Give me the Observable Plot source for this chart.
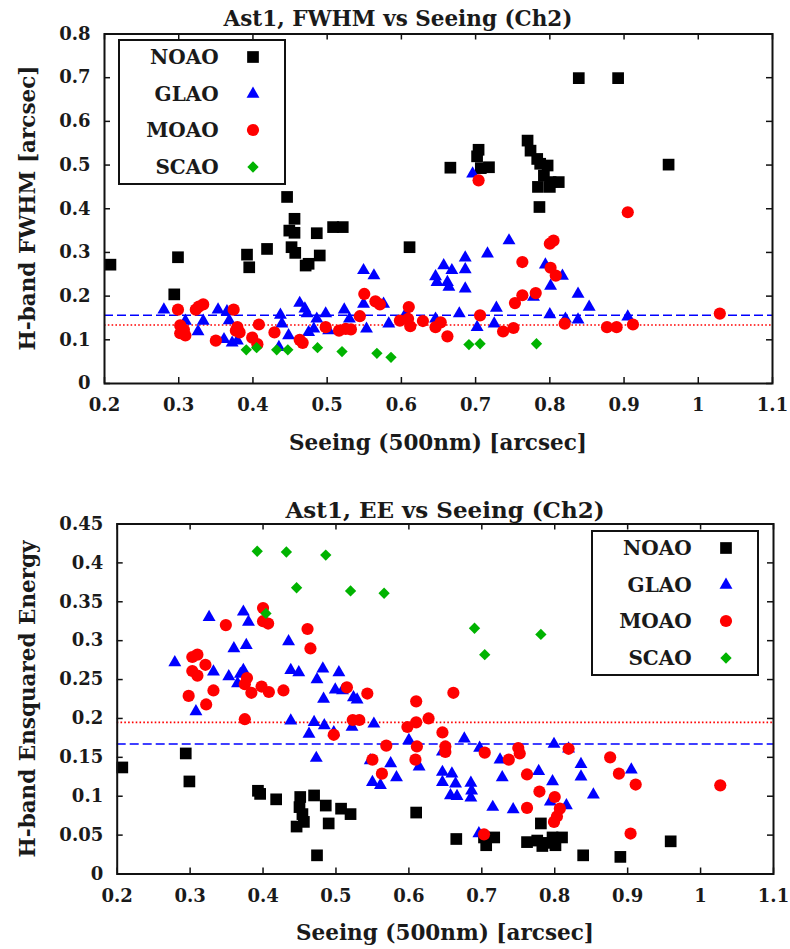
<!DOCTYPE html>
<html><head><meta charset="utf-8">
<script src="https://cdn.jsdelivr.net/npm/d3@7"></script>
<script src="https://cdn.jsdelivr.net/npm/@observablehq/plot@0.6"></script>
<style>
body{margin:0;background:#fff;}
#wrap{position:relative;width:790px;height:949px;overflow:hidden;font-family:"DejaVu Serif",serif;font-weight:bold;color:#1a1a1a;background:#fff;}
.abs{position:absolute;white-space:nowrap;line-height:1;}
#wrap svg.plot{position:absolute;left:0;}
</style></head><body><div id="wrap"></div>
<script>
// ---------- ticks ----------
const xTicks = [0.2, 0.3, 0.4, 0.5, 0.6, 0.7, 0.8, 0.9, 1, 1.1];
const fwhmTicks = [0, 0.1, 0.2, 0.3, 0.4, 0.5, 0.6, 0.7, 0.8];
const eeTicks = [0, 0.05, 0.1, 0.15, 0.2, 0.25, 0.3, 0.35, 0.4, 0.45];
const systems = ["NOAO", "GLAO", "MOAO", "SCAO"];

// ---------- FWHM panel data ----------
const noaoSeeingF = [0.208,0.294,0.299,0.392,0.395,0.419,0.446,0.449,0.456,0.452,0.456,0.457,0.471,0.475,0.486,0.490,0.508,0.521,0.611,0.666,0.702,0.704,0.707,0.718,0.770,0.774,0.783,0.787,0.797,0.792,0.801,0.812,0.784,0.800,0.786,0.839,0.892,0.960];
const noaoFwhm    = [0.272,0.204,0.289,0.295,0.266,0.308,0.427,0.350,0.345,0.312,0.377,0.299,0.270,0.274,0.344,0.293,0.358,0.358,0.312,0.494,0.520,0.535,0.493,0.495,0.556,0.533,0.514,0.503,0.499,0.476,0.461,0.461,0.450,0.450,0.404,0.699,0.699,0.501];

const glaoSeeingF = [0.280,0.309,0.326,0.333,0.353,0.365,0.368,0.361,0.372,0.379,0.380,0.437,0.439,0.435,0.448,0.463,0.470,0.473,0.475,0.482,0.486,0.498,0.502,0.523,0.530,0.549,0.563,0.549,0.576,0.553,0.583,0.606,0.646,0.646,0.648,0.657,0.668,0.662,0.664,0.686,0.686,0.686,0.678,0.702,0.716,0.728,0.725,0.745,0.778,0.696,0.794,0.817,0.801,0.838,0.853,0.800,0.821,0.838,0.905];
const glaoFwhm    = [0.169,0.143,0.119,0.143,0.169,0.165,0.144,0.101,0.093,0.098,0.121,0.157,0.137,0.083,0.110,0.184,0.171,0.160,0.117,0.125,0.148,0.160,0.121,0.169,0.148,0.259,0.247,0.182,0.182,0.125,0.137,0.160,0.148,0.245,0.232,0.270,0.259,0.232,0.221,0.288,0.261,0.217,0.160,0.129,0.297,0.173,0.137,0.327,0.198,0.480,0.272,0.246,0.223,0.205,0.175,0.158,0.148,0.146,0.153];

const moaoSeeingF = [0.299,0.302,0.302,0.309,0.307,0.323,0.327,0.333,0.350,0.374,0.377,0.382,0.379,0.399,0.408,0.406,0.429,0.463,0.467,0.498,0.516,0.525,0.532,0.544,0.550,0.565,0.571,0.598,0.610,0.612,0.609,0.629,0.646,0.653,0.662,0.706,0.704,0.737,0.751,0.753,0.763,0.763,0.781,0.800,0.805,0.801,0.808,0.820,0.877,0.890,0.912,0.905,1.029];
const moaoFwhm    = [0.169,0.133,0.115,0.110,0.123,0.169,0.176,0.181,0.098,0.169,0.121,0.117,0.129,0.105,0.135,0.090,0.117,0.100,0.093,0.129,0.121,0.125,0.124,0.154,0.205,0.188,0.181,0.144,0.175,0.131,0.148,0.143,0.129,0.140,0.108,0.156,0.465,0.119,0.127,0.184,0.202,0.278,0.207,0.320,0.327,0.265,0.247,0.137,0.129,0.129,0.135,0.392,0.160];

const scaoSeeingF = [0.391,0.405,0.432,0.447,0.487,0.520,0.567,0.586,0.691,0.706,0.782];
const scaoFwhm    = [0.077,0.082,0.077,0.077,0.082,0.073,0.069,0.060,0.089,0.091,0.091];

const fwhmMeanGlao = 0.156;
const fwhmMeanMoao = 0.134;

// ---------- EE panel data ----------
const noaoSeeingE = [0.207,0.294,0.299,0.393,0.396,0.418,0.446,0.450,0.451,0.454,0.456,0.470,0.474,0.486,0.490,0.507,0.520,0.610,0.665,0.703,0.706,0.717,0.762,0.776,0.781,0.783,0.790,0.797,0.801,0.810,0.839,0.890,0.959];
const noaoEE      = [0.137,0.155,0.119,0.107,0.103,0.096,0.061,0.086,0.099,0.077,0.067,0.101,0.024,0.088,0.065,0.084,0.077,0.079,0.045,0.047,0.037,0.047,0.041,0.043,0.065,0.036,0.040,0.047,0.037,0.047,0.024,0.022,0.042];

const glaoSeeingE = [0.279,0.308,0.326,0.332,0.353,0.360,0.373,0.380,0.377,0.365,0.369,0.373,0.435,0.438,0.449,0.438,0.463,0.470,0.473,0.474,0.482,0.483,0.484,0.504,0.499,0.509,0.524,0.529,0.497,0.522,0.552,0.547,0.575,0.583,0.550,0.561,0.600,0.614,0.646,0.659,0.646,0.664,0.657,0.666,0.685,0.686,0.685,0.676,0.646,0.697,0.725,0.728,0.715,0.743,0.778,0.696,0.797,0.794,0.799,0.819,0.836,0.836,0.853,0.905,0.816];
const glaoEE      = [0.272,0.209,0.330,0.260,0.254,0.290,0.337,0.324,0.294,0.245,0.257,0.262,0.299,0.262,0.259,0.197,0.180,0.195,0.149,0.250,0.264,0.225,0.191,0.259,0.237,0.236,0.227,0.224,0.182,0.189,0.193,0.146,0.142,0.124,0.118,0.114,0.172,0.138,0.131,0.129,0.118,0.116,0.101,0.100,0.117,0.107,0.098,0.174,0.157,0.162,0.147,0.124,0.086,0.083,0.132,0.052,0.119,0.093,0.167,0.161,0.141,0.125,0.102,0.134,0.088];

const moaoSeeingE = [0.298,0.303,0.310,0.303,0.310,0.321,0.322,0.332,0.349,0.375,0.378,0.375,0.384,0.400,0.400,0.407,0.398,0.408,0.428,0.461,0.465,0.497,0.515,0.543,0.523,0.532,0.550,0.563,0.569,0.598,0.610,0.610,0.611,0.609,0.627,0.646,0.650,0.650,0.661,0.704,0.737,0.750,0.752,0.762,0.779,0.762,0.703,0.800,0.807,0.803,0.799,0.819,0.876,0.888,0.911,0.904,1.027];
const moaoEE      = [0.229,0.279,0.282,0.261,0.255,0.269,0.218,0.236,0.320,0.199,0.252,0.244,0.233,0.342,0.325,0.322,0.241,0.234,0.236,0.315,0.290,0.179,0.240,0.232,0.198,0.198,0.147,0.129,0.165,0.189,0.222,0.195,0.164,0.147,0.200,0.182,0.164,0.157,0.233,0.156,0.147,0.162,0.155,0.128,0.106,0.085,0.051,0.099,0.084,0.074,0.067,0.161,0.150,0.129,0.115,0.052,0.114];

const scaoSeeingE = [0.392,0.404,0.432,0.446,0.486,0.520,0.566,0.690,0.704,0.781];
const scaoEE      = [0.415,0.335,0.414,0.368,0.410,0.364,0.361,0.316,0.282,0.308];

const eeMeanGlao = 0.167;
const eeMeanMoao = 0.195;

// ---------- styles ----------
const looks = {
  NOAO: {symbol: "square",   r: 6.6, fill: "#000000"},
  GLAO: {symbol: "triangle", r: 4.8, fill: "#0000ff"},
  MOAO: {symbol: "circle",   r: 6.1, fill: "#ff0000"},
  SCAO: {symbol: "diamond2", r: 5.1, fill: "#00b300"}
};
const d3sym = {square: d3.symbolSquare, triangle: d3.symbolTriangle, circle: d3.symbolCircle, diamond2: d3.symbolDiamond2};

const zipPts = (s, v) => s.map((x, i) => ({seeing: x, value: v[i]}));

const wrap = document.getElementById("wrap");

function panel(cfg) {
  const W = 790;
  const frameH = cfg.height - cfg.mt - cfg.mb;
  const frameW = W - cfg.ml - cfg.mr;
  const marks = [
    Plot.ruleY([cfg.meanG], {stroke: "#0000ff", strokeWidth: 1.5, strokeDasharray: "9,4"}),
    Plot.ruleY([cfg.meanM], {stroke: "#ff0000", strokeWidth: 1.6, strokeDasharray: "1.6,2.2"})
  ];
  systems.forEach((name, i) => {
    const lk = looks[name];
    marks.push(Plot.dot(cfg.series[i], {x: "seeing", y: "value", symbol: lk.symbol, r: lk.r, fill: lk.fill, stroke: "none"}));
  });
  marks.push(
    Plot.tickX(xTicks, {x: d => d, insetTop: frameH - 6, stroke: "#111", strokeWidth: 1.5}),
    Plot.tickX(xTicks, {x: d => d, insetBottom: frameH - 6, stroke: "#111", strokeWidth: 1.5}),
    Plot.tickY(cfg.yTicks, {y: d => d, insetRight: frameW - 6, stroke: "#111", strokeWidth: 1.5}),
    Plot.tickY(cfg.yTicks, {y: d => d, insetLeft: frameW - 6, stroke: "#111", strokeWidth: 1.5}),
    Plot.frame({stroke: "#111", strokeWidth: 2}),
    Plot.axisX(xTicks, {anchor: "bottom", tickSize: 0, tickPadding: 15, tickFormat: d => String(d), label: null, fill: "#1a1a1a"}),
    Plot.axisY(cfg.yTicks, {anchor: "left", tickSize: 0, tickPadding: 14, tickFormat: d => String(d), label: null, fill: "#1a1a1a"})
  );
  const svg = Plot.plot({
    width: W, height: cfg.height,
    marginLeft: cfg.ml, marginRight: cfg.mr, marginTop: cfg.mt, marginBottom: cfg.mb,
    x: {domain: [0.2, 1.1]},
    y: {domain: cfg.yDomain},
    style: {fontFamily: "DejaVu Serif", fontWeight: "bold", fontSize: "18px", color: "#1a1a1a", background: "transparent", overflow: "visible"},
    marks
  });
  svg.classList.add("plot");
  svg.style.top = cfg.top + "px";
  wrap.appendChild(svg);
}

function text(str, x, y, size, rotate) {
  const d = document.createElement("div");
  d.className = "abs";
  d.textContent = str;
  d.style.left = x + "px";
  d.style.top = y + "px";
  d.style.fontSize = size + "px";
  d.style.transform = "translate(-50%,-50%)" + (rotate ? " rotate(-90deg)" : "");
  wrap.appendChild(d);
}

function legend(left, top) {
  const box = document.createElement("div");
  box.className = "abs";
  Object.assign(box.style, {left: left + "px", top: top + "px", width: "168px", height: "146px",
    border: "2px solid #111", boxSizing: "border-box", background: "#fff"});
  systems.forEach((name, i) => {
    const cy = 18.3 + i * 36.4 - 2;
    const lab = document.createElement("div");
    lab.className = "abs";
    lab.textContent = name;
    Object.assign(lab.style, {left: "0px", width: "98.7px", textAlign: "right", top: cy + "px", fontSize: "20px", transform: "translateY(-50%)"});
    box.appendChild(lab);
    const lk = looks[name];
    const ns = "http://www.w3.org/2000/svg";
    const s = document.createElementNS(ns, "svg");
    s.setAttribute("width", 20); s.setAttribute("height", 20);
    Object.assign(s.style, {position: "absolute", left: (132.7 - 10) + "px", top: (cy - 10) + "px"});
    const p = document.createElementNS(ns, "path");
    p.setAttribute("d", d3.symbol(d3sym[lk.symbol], Math.PI * lk.r * lk.r)());
    p.setAttribute("transform", "translate(10,10)");
    p.setAttribute("fill", lk.fill);
    s.appendChild(p);
    box.appendChild(s);
  });
  wrap.appendChild(box);
}

// ---------- top panel: FWHM ----------
panel({
  top: 0, height: 470, ml: 104, mr: 18, mt: 33.5, mb: 87,
  yDomain: [0, 0.8], yTicks: fwhmTicks, meanG: fwhmMeanGlao, meanM: fwhmMeanMoao,
  series: [zipPts(noaoSeeingF, noaoFwhm), zipPts(glaoSeeingF, glaoFwhm), zipPts(moaoSeeingF, moaoFwhm), zipPts(scaoSeeingF, scaoFwhm)]
});
text("Ast1, FWHM vs Seeing (Ch2)", 398, 18.5, 21.5);
text("Seeing (500nm) [arcsec]", 438, 443, 21.5);
text("H-band FWHM [arcsec]", 28, 208, 21.5, true);
legend(118, 39);

// ---------- bottom panel: EE ----------
panel({
  top: 480, height: 469, ml: 116.7, mr: 17, mt: 43.5, mb: 75.5,
  yDomain: [0, 0.45], yTicks: eeTicks, meanG: eeMeanGlao, meanM: eeMeanMoao,
  series: [zipPts(noaoSeeingE, noaoEE), zipPts(glaoSeeingE, glaoEE), zipPts(moaoSeeingE, moaoEE), zipPts(scaoSeeingE, scaoEE)]
});
text("Ast1, EE vs Seeing (Ch2)", 445, 508.5, 23);
text("Seeing (500nm) [arcsec]", 445, 932.5, 21.5);
text("H-band Ensquared Energy", 28, 698.5, 21.5, true);
legend(591, 530);
</script></body></html>
